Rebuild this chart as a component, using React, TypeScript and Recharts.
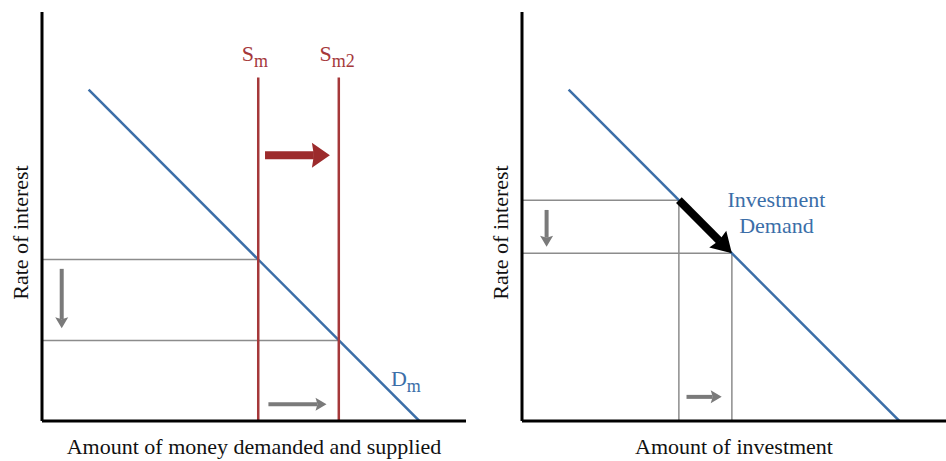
import React from 'react';
import { ComposedChart, Line, XAxis, YAxis, ReferenceLine, ReferenceDot } from 'recharts';

// ---- Money market panel ----
const moneyDemand = [{ x: 11, y: 81 }, { x: 89, y: 0 }];
const moneySupply1 = [{ x: 51, y: 0 }, { x: 51, y: 84 }];
const moneySupply2 = [{ x: 70, y: 0 }, { x: 70, y: 84 }];
const moneyRate1 = [{ x: 0, y: 39.5 }, { x: 51, y: 39.5 }];
const moneyRate2 = [{ x: 0, y: 19.7 }, { x: 70, y: 19.7 }];
const moneyArrows = [
  { kind: 'red', from: { x: 52.6, y: 65 }, to: { x: 67.9, y: 65 } },
  { kind: 'gray', from: { x: 4.65, y: 37.2 }, to: { x: 4.65, y: 22.7 } },
  { kind: 'gray', from: { x: 53.4, y: 4.1 }, to: { x: 67.1, y: 4.1 } },
];
const moneyLabels = [
  { main: 'S', sub: 'm', x: 50.2, y: 88.0, color: 'red', anchor: 'middle' },
  { main: 'S', sub: 'm2', x: 69.6, y: 88.0, color: 'red', anchor: 'middle' },
  { main: 'D', sub: 'm', x: 82.3, y: 8.6, color: 'blue', anchor: 'start' },
];

// ---- Investment panel ----
const investDemand = [{ x: 11, y: 81 }, { x: 89, y: 0 }];
const investRate1 = [{ x: 0, y: 54 }, { x: 37, y: 54 }];
const investRate2 = [{ x: 0, y: 41 }, { x: 49.5, y: 41 }];
const investAmt1 = [{ x: 37, y: 0 }, { x: 37, y: 54 }];
const investAmt2 = [{ x: 49.5, y: 0 }, { x: 49.5, y: 41 }];
const investArrows = [
  { kind: 'black', from: { x: 37, y: 54 }, to: { x: 49.5, y: 41 } },
  { kind: 'gray', from: { x: 5.8, y: 51.6 }, to: { x: 5.8, y: 42.6 } },
  { kind: 'gray', from: { x: 38.8, y: 5.9 }, to: { x: 47.1, y: 5.9 } },
];
const investLabels = [
  { text: 'Investment', x: 60, y: 52.3 },
  { text: 'Demand', x: 60, y: 46.0 },
];

const FONT = '"Liberation Serif", "Times New Roman", serif';
const BLUE = '#3b6ea8';
const RED = '#a5383a';
const RED_ARROW = '#9c2b2c';
const GUIDE = '#8c8c8c';
const GRAY_ARROW = '#7a7a7a';

const arrowStyles: Record<string, { color: string; shaft: number; headLen: number; headW: number }> = {
  red: { color: RED_ARROW, shaft: 8, headLen: 18, headW: 25 },
  black: { color: '#000', shaft: 8, headLen: 20, headW: 24 },
  gray: { color: GRAY_ARROW, shaft: 4, headLen: 11, headW: 13 },
};

const makeArrow = (kind: string) => (p: any) => {
  const s = arrowStyles[kind];
  const { x1, y1, x2, y2 } = p;
  const dx = x2 - x1;
  const dy = y2 - y1;
  const L = Math.hypot(dx, dy) || 1;
  const ux = dx / L;
  const uy = dy / L;
  const bx = x2 - ux * s.headLen;
  const by = y2 - uy * s.headLen;
  const nx = -uy;
  const ny = ux;
  return (
    <g>
      <line x1={x1} y1={y1} x2={bx + ux * 2} y2={by + uy * 2} stroke={s.color} strokeWidth={s.shaft} />
      <polygon
        points={`${x2},${y2} ${bx + (nx * s.headW) / 2},${by + (ny * s.headW) / 2} ${bx + ux * 2},${by + uy * 2} ${bx - (nx * s.headW) / 2},${by - (ny * s.headW) / 2}`}
        fill={s.color}
      />
    </g>
  );
};

const subLabel = (l: any) => (p: any) => (
  <text
    x={p.cx}
    y={p.cy}
    textAnchor={l.anchor}
    fill={l.color === 'red' ? RED : BLUE}
    fontFamily={FONT}
    fontSize={22}
  >
    {l.main}
    <tspan fontSize={18} dy={6}>{l.sub}</tspan>
  </text>
);

const plainLabel = (l: any) => (p: any) => (
  <text x={p.cx} y={p.cy} textAnchor="middle" fill={BLUE} fontFamily={FONT} fontSize={22}>
    {l.text}
  </text>
);

const yLabel = (props: any) => {
  const vb = props.viewBox;
  const cx = 28;
  const cy = vb.y + vb.height / 2 + 16;
  return (
    <text
      x={cx}
      y={cy}
      transform={`rotate(-90 ${cx} ${cy})`}
      textAnchor="middle"
      fill="#111"
      fontFamily={FONT}
      fontSize={22}
    >
      Rate of interest
    </text>
  );
};

const xLabel = (text: string) => (props: any) => {
  const vb = props.viewBox;
  const cx = vb.x + vb.width / 2;
  return (
    <text x={cx} y={vb.y + 33} textAnchor="middle" fill="#111" fontFamily={FONT} fontSize={22}>
      {text}
    </text>
  );
};

const lineProps = { dataKey: 'y', dot: false, activeDot: false, isAnimationActive: false, legendType: 'none' as const };

export default function App() {
  return (
    <div style={{ position: 'absolute', left: 0, top: 0, width: 946, height: 461, background: '#fff' }}>
      <div style={{ position: 'absolute', left: 0, top: 0 }}>
        <ComposedChart width={480} height={461} margin={{ top: 12, right: 14, bottom: 0, left: 0 }}>
          <XAxis
            type="number"
            dataKey="x"
            domain={[0, 100]}
            allowDataOverflow
            height={40}
            tick={false}
            tickLine={false}
            axisLine={{ stroke: '#000', strokeWidth: 3 }}
            label={xLabel('Amount of money demanded and supplied')}
          />
          <YAxis
            type="number"
            domain={[0, 100]}
            allowDataOverflow
            width={42}
            tick={false}
            tickLine={false}
            axisLine={{ stroke: '#000', strokeWidth: 3 }}
            label={yLabel}
          />
          <Line data={moneyRate1} stroke={GUIDE} strokeWidth={1.5} {...lineProps} />
          <Line data={moneyRate2} stroke={GUIDE} strokeWidth={1.5} {...lineProps} />
          <Line data={moneyDemand} stroke={BLUE} strokeWidth={2.5} {...lineProps} />
          <Line data={moneySupply1} stroke={RED} strokeWidth={2.5} {...lineProps} />
          <Line data={moneySupply2} stroke={RED} strokeWidth={2.5} {...lineProps} />
          {moneyArrows.map((a, i) => (
            <ReferenceLine key={'ma' + i} segment={[a.from, a.to]} shape={makeArrow(a.kind)} />
          ))}
          {moneyLabels.map((l, i) => (
            <ReferenceDot key={'ml' + i} x={l.x} y={l.y} r={0} shape={subLabel(l)} />
          ))}
        </ComposedChart>
      </div>
      <div style={{ position: 'absolute', left: 480, top: 0 }}>
        <ComposedChart width={466} height={461} margin={{ top: 12, right: 0, bottom: 0, left: 0 }}>
          <XAxis
            type="number"
            dataKey="x"
            domain={[0, 100]}
            allowDataOverflow
            height={40}
            tick={false}
            tickLine={false}
            axisLine={{ stroke: '#000', strokeWidth: 3 }}
            label={xLabel('Amount of investment')}
          />
          <YAxis
            type="number"
            domain={[0, 100]}
            allowDataOverflow
            width={42}
            tick={false}
            tickLine={false}
            axisLine={{ stroke: '#000', strokeWidth: 3 }}
            label={yLabel}
          />
          <Line data={investRate1} stroke={GUIDE} strokeWidth={1.5} {...lineProps} />
          <Line data={investRate2} stroke={GUIDE} strokeWidth={1.5} {...lineProps} />
          <Line data={investAmt1} stroke={GUIDE} strokeWidth={1.5} {...lineProps} />
          <Line data={investAmt2} stroke={GUIDE} strokeWidth={1.5} {...lineProps} />
          <Line data={investDemand} stroke={BLUE} strokeWidth={2.5} {...lineProps} />
          {investArrows.map((a, i) => (
            <ReferenceLine key={'ia' + i} segment={[a.from, a.to]} shape={makeArrow(a.kind)} />
          ))}
          {investLabels.map((l, i) => (
            <ReferenceDot key={'il' + i} x={l.x} y={l.y} r={0} shape={plainLabel(l)} />
          ))}
        </ComposedChart>
      </div>
    </div>
  );
}
